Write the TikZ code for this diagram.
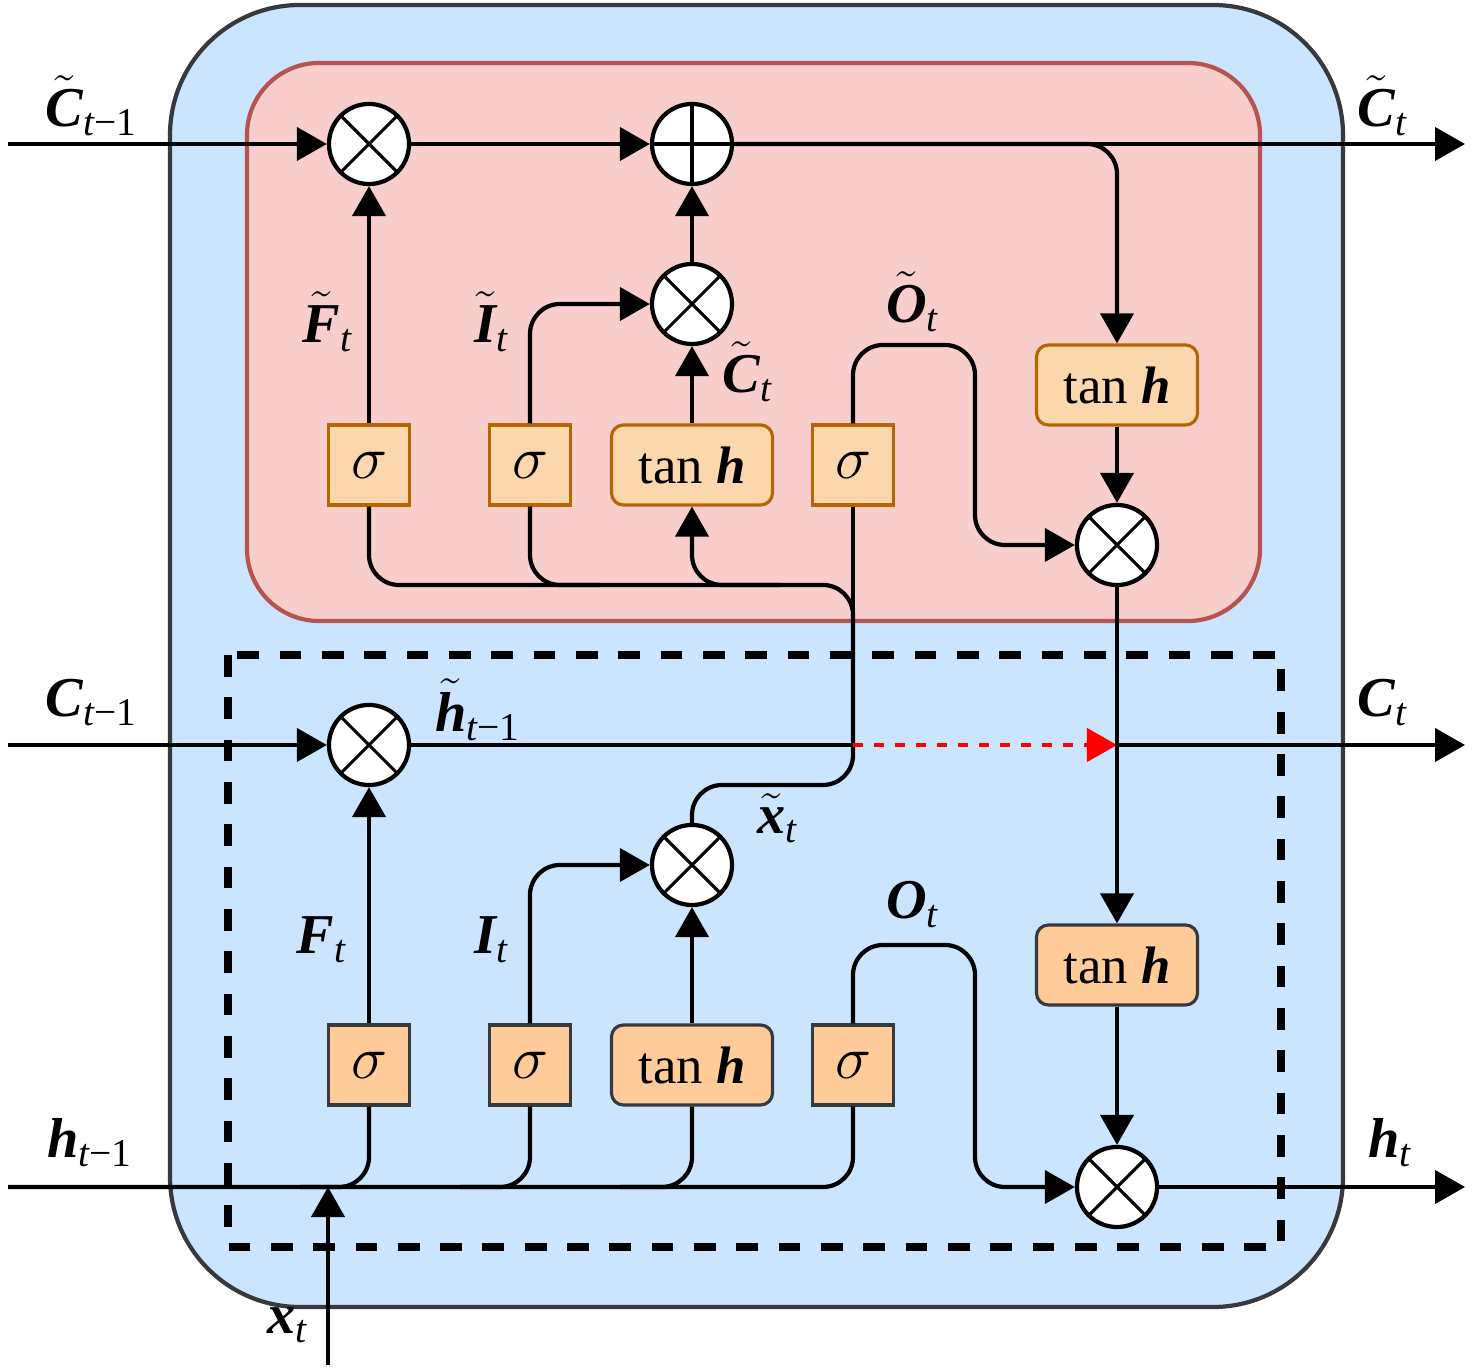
\documentclass[tikz,border=0pt]{standalone}
\usepackage{amsmath}
\usepackage{fontspec}
\setmainfont{Liberation Serif}
\usetikzlibrary{arrows.meta, positioning, calc}
\definecolor{cblue}{HTML}{CCE5FF}
\definecolor{cdark}{HTML}{36393D}
\definecolor{cpink}{HTML}{F8CECC}
\definecolor{cpinkb}{HTML}{B85450}
\definecolor{corange}{HTML}{FAD7AC}
\definecolor{corangeb}{HTML}{B46504}
\definecolor{cpeach}{HTML}{FFCC99}
\newcommand{\bvar}[1]{\text{\bfseries\itshape #1}}
\newcommand{\tsub}{\text{\itshape t}}
\newcommand{\tmsub}{\text{\itshape t\upshape −1}}
\newcommand{\sig}{{\fontsize{19}{20}\selectfont$\sigma$}}

\begin{document}
\begin{tikzpicture}[x=0.01cm, y=-0.01cm,
    every node/.style={font=\fontsize{16}{18}\selectfont},
    wire/.style={line width=1.2pt},
    arr/.style={wire, -{Triangle[length=0.3cm, width=0.33cm]}},
    mul/.style={circle, draw, fill=white, line width=1.2pt, minimum size=0.8cm, inner sep=0pt,
        path picture={\draw[line width=0.9pt] (path picture bounding box.north west) -- (path picture bounding box.south east)
            (path picture bounding box.north east) -- (path picture bounding box.south west);}},
    add/.style={circle, draw, fill=white, line width=1.2pt, minimum size=0.8cm, inner sep=0pt,
        path picture={\draw[line width=0.9pt] (path picture bounding box.north) -- (path picture bounding box.south)
            (path picture bounding box.east) -- (path picture bounding box.west);}},
    sgtop/.style={draw=corangeb, fill=corange, line width=0.9pt, minimum width=0.81cm, minimum height=0.8cm, inner sep=0pt, font=\fontsize{15}{17}\selectfont},
    thtop/.style={sgtop, rounded corners=0.12cm, minimum width=1.61cm},
    sgbot/.style={sgtop, draw=cdark, fill=cpeach},
    thbot/.style={thtop, draw=cdark, fill=cpeach}
]
\useasboundingbox (0,0) rectangle (1476,1368);
% frames
\draw[cdark, fill=cblue, line width=1.2pt, rounded corners=1.3cm] (170,5) rectangle (1343,1307);
\draw[cpinkb, fill=cpink, line width=1.2pt, rounded corners=0.72cm] (247,63) rectangle (1260,621);
\draw[line width=2.2pt, dash pattern=on 0.217cm off 0.206cm] (228,655) rectangle (1281,1247);

% upper cell
\node[mul] (mF1) at (369,144) {};
\node[add] (add1) at (692,144) {};
\node[mul] (mI1) at (692,304) {};
\node[sgtop] (sgF1) at (369,465) {\sig};
\node[sgtop] (sgI1) at (530,465) {\sig};
\node[thtop] (thC1) at (692,465) {tan \textbf{\textit{h}}};
\node[sgtop] (sgO1) at (853,465) {\sig};
\node[thtop] (thO1) at (1117,385) {tan \textbf{\textit{h}}};
\node[mul] (mO1) at (1117,545) {};

% lower cell
\node[mul] (mF2) at (369,745) {};
\node[mul] (mI2) at (692,865) {};
\node[sgbot] (sgF2) at (369,1065) {\sig};
\node[sgbot] (sgI2) at (530,1065) {\sig};
\node[thbot] (thC2) at (692,1065) {tan \textbf{\textit{h}}};
\node[sgbot] (sgO2) at (853,1065) {\sig};
\node[thbot] (thO2) at (1117,965) {tan \textbf{\textit{h}}};
\node[mul] (mO2) at (1117,1187) {};

% ends
\coordinate (inC1) at (8,144);
\coordinate (outC1) at (1465,144);
\coordinate (inC2) at (8,745);
\coordinate (outC2) at (1465,745);
\coordinate (inH) at (8,1187);
\coordinate (outH) at (1465,1187);
\coordinate (inX) at (328,1365);
\coordinate (jX) at (328,1187);
\coordinate (jC) at (1117,745);

% labels
\node (lC1in) at (92,106) {$\tilde{\bvar{C}}_{\tmsub}$};
\node (lC1out) at (1383,106) {$\tilde{\bvar{C}}_{\tsub}$};
\node (lC2in) at (92,703) {$\bvar{C}_{\tmsub}$};
\node (lC2out) at (1383,703) {$\bvar{C}_{\tsub}$};
\node (lHin) at (90,1143) {$\bvar{h}_{\tmsub}$};
\node (lHout) at (1390,1143) {$\bvar{h}_{\tsub}$};
\node (lX) at (288,1325) {$\bvar{x}_{\tsub}$};
\node (lF1) at (328,322) {$\tilde{\bvar{F}}_{\tsub}$};
\node (lI1) at (492,322) {$\tilde{\bvar{I}}_{\tsub}$};
\node (lO1) at (913,302) {$\tilde{\bvar{O}}_{\tsub}$};
\node (lCt) at (748,372) {$\tilde{\bvar{C}}_{\tsub}$};
\node (lHt) at (478,710) {$\tilde{\bvar{h}}_{\tmsub}$};
\node (lXt) at (778,818) {$\tilde{\bvar{x}}_{\tsub}$};
\node (lF2) at (322,940) {$\bvar{F}_{\tsub}$};
\node (lI2) at (492,940) {$\bvar{I}_{\tsub}$};
\node (lO2) at (913,905) {$\bvar{O}_{\tsub}$};

% upper wires
\draw[arr] (inC1) -- (mF1);
\draw[arr] (mF1) -- (add1);
\draw[arr] (add1) -- (outC1);
\draw[arr, rounded corners=0.3cm] (add1) -| (thO1.north);
\draw[arr] (thO1) -- (mO1);
\draw[arr] (mI1) -- (add1);
\draw[arr] (thC1) -- (mI1);
\draw[arr] (sgF1) -- (mF1);
\draw[arr, rounded corners=0.3cm] (sgI1.north) |- (mI1.west);
\draw[arr, rounded corners=0.3cm] (sgO1.north) |- (975,345) |- (mO1.west);
\draw[wire, rounded corners=0.3cm] (sgF1.south) |- (853,585) -- (853,785) -| (mI2.north);
\draw[wire, rounded corners=0.3cm] (sgI1.south) |- (600,585);
\draw[arr, rounded corners=0.3cm] (780,585) -| (thC1.south);
\draw[wire] (sgO1.south) -- (853,620);

% lower wires
\draw[arr] (inC2) -- (mF2);
\draw[wire] (mF2) -- (853,745);
\draw[red, line width=1.2pt, dash pattern=on 0.1cm off 0.11cm, -{Triangle[length=0.3cm, width=0.33cm]}] (853,745) -- (jC);
\draw[arr] (jC) -- (outC2);
\draw[arr] (mO1) -- (thO2);
\draw[arr] (thO2) -- (mO2);
\draw[arr] (sgF2) -- (mF2);
\draw[arr, rounded corners=0.3cm] (sgI2.north) |- (mI2.west);
\draw[arr] (thC2) -- (mI2);
\draw[arr, rounded corners=0.3cm] (sgO2.north) |- (975,945) |- (mO2.west);
\draw[wire, rounded corners=0.3cm] (sgO2.south) |- (inH);
\draw[wire, rounded corners=0.3cm] (thC2.south) |- (620,1187);
\draw[wire, rounded corners=0.3cm] (sgI2.south) |- (460,1187);
\draw[wire, rounded corners=0.3cm] (sgF2.south) |- (300,1187);
\draw[arr] (inX) -- (jX);
\draw[arr] (mO2) -- (outH);
\end{tikzpicture}
\end{document}
